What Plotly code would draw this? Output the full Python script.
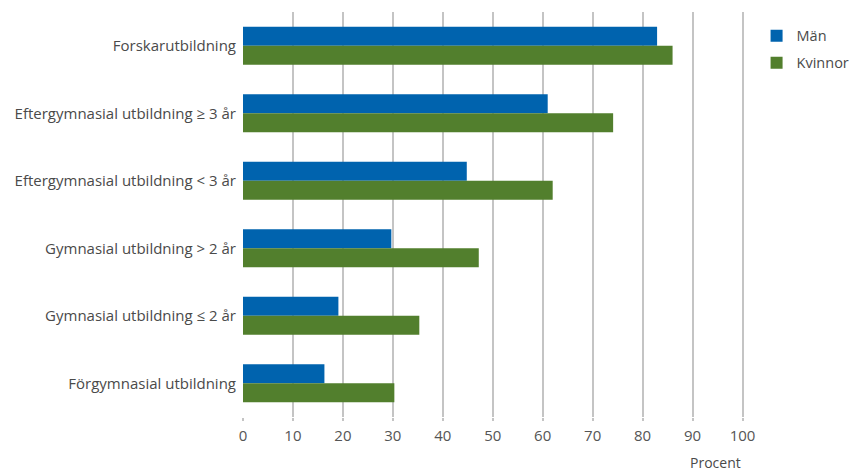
import plotly.graph_objects as go

categories = [
    "Forskarutbildning",
    "Eftergymnasial utbildning ≥ 3 år",
    "Eftergymnasial utbildning < 3 år",
    "Gymnasial utbildning > 2 år",
    "Gymnasial utbildning ≤ 2 år",
    "Förgymnasial utbildning",
]
man = [82.9, 61.0, 44.8, 29.7, 19.1, 16.3]
kvinnor = [86.0, 74.1, 62.0, 47.2, 35.3, 30.3]
x_ticks = [0, 10, 20, 30, 40, 50, 60, 70, 80, 90, 100]

font = "Open Sans"
fig = go.Figure()
fig.add_trace(go.Bar(y=categories, x=man, name="Män", orientation="h", legendgroup="m",
                     marker=dict(color="#0063AE", line=dict(width=0))))
fig.add_trace(go.Bar(y=categories, x=kvinnor, name="Kvinnor", orientation="h", legendgroup="k",
                     marker=dict(color="#527F2D", line=dict(width=0))))

fig.update_layout(
    width=852, height=474,
    margin=dict(l=243, r=107, t=12, b=57, autoexpand=False),
    paper_bgcolor="white", plot_bgcolor="white",
    barmode="group", bargap=0.44, bargroupgap=0,
    font=dict(family=font, size=15, color="#4a4a4a"),
    legend=dict(xref="container", yref="container", x=0.888, y=0.958,
                xanchor="left", yanchor="top", traceorder="grouped",
                font=dict(size=14.5, color="#4a4a4a"), itemwidth=30, tracegroupgap=5),
    xaxis=dict(range=[0, 100.5], tickvals=x_ticks, showgrid=True, gridcolor="#c4c4c4",
               gridwidth=2, zeroline=False, showline=False, ticks="outside", ticklen=3,
               tickcolor="#c4c4c4", tickwidth=2, automargin=False, ticklabelstandoff=2,
               tickfont=dict(size=15, color="#555555")),
    yaxis=dict(autorange="reversed", showgrid=False, zeroline=False, showline=False,
               ticks="", ticklabelstandoff=6, automargin=False,
               tickfont=dict(size=15, color="#4a4a4a")),
    annotations=[dict(text="Procent", xref="paper", yref="paper", x=0.942, y=-0.113,
                      xanchor="center", yanchor="middle", showarrow=False,
                      font=dict(size=14, color="#4a4a4a"))],
)
fig.write_html("out.html", config={"displayModeBar": False},
               post_script="document.body.style.margin='0';document.body.style.padding='0';")
